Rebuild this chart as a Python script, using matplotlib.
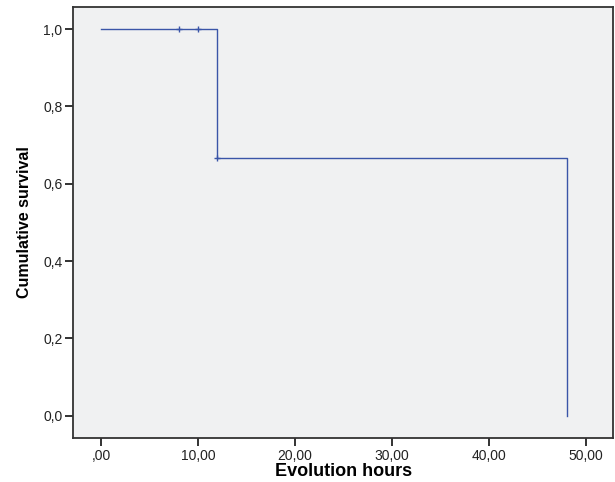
import matplotlib
matplotlib.use('Agg')
import matplotlib.pyplot as plt
from matplotlib.ticker import FuncFormatter

# Kaplan-Meier step data
step_times = [0, 12, 12, 48, 48]
step_surv = [1.0, 1.0, 0.667, 0.667, 0.0]
censor_times = [8, 10, 12]
censor_surv = [1.0, 1.0, 0.667]

x_ticks = [0, 10, 20, 30, 40, 50]
y_ticks = [0.0, 0.2, 0.4, 0.6, 0.8, 1.0]

plt.rcParams['font.family'] = ['Liberation Sans', 'DejaVu Sans']

fig = plt.figure(figsize=[6.15, 4.82], dpi=100)
ax = fig.add_axes([0.1195, 0.092, 0.877, 0.894])
ax.set_facecolor('#f0f1f2')

line_col = '#3a55a8'
ax.plot(step_times, step_surv, color=line_col, lw=1.0)
ax.plot(censor_times, censor_surv, ls='none', marker='+', ms=5, mew=1.0, color=line_col)

ax.set_xlim(-2.84, 52.75)
ax.set_ylim(-0.057, 1.058)
ax.set_xticks(x_ticks)
ax.set_yticks(y_ticks)

def xfmt(v, pos):
  s = '%.2f' % v
  if s.startswith('0'):
    s = s[1:]
  return s.replace('.', ',')

ax.xaxis.set_major_formatter(FuncFormatter(xfmt))
ax.yaxis.set_major_formatter(FuncFormatter(lambda v, p: ('%.1f' % v).replace('.', ',')))
ax.tick_params(direction='out', length=6, width=1.3, labelsize=10, colors='#222222', pad=2)

for s in ax.spines.values():
  s.set_linewidth(1.3)
  s.set_color('#333333')

ax.set_xlabel('Evolution hours', fontsize=13, fontweight='bold', labelpad=0)
ax.set_ylabel('Cumulative survival', fontsize=11.5, fontweight='bold', labelpad=8)

fig.savefig('out.png', dpi=100)
plt.close('all')
